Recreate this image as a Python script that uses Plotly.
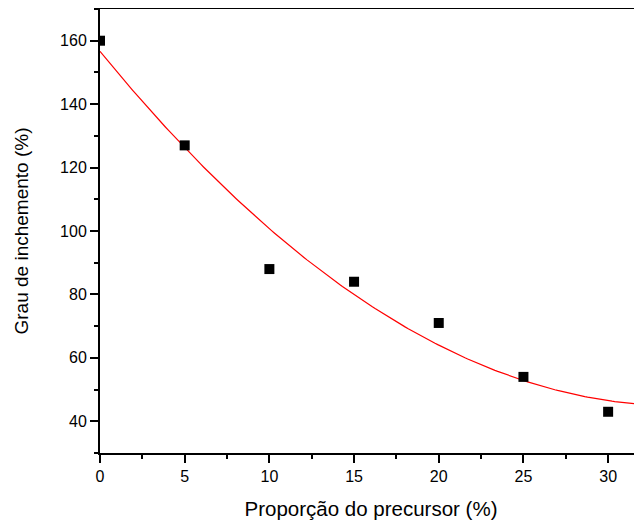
import numpy as np
import plotly.graph_objects as go

proporcao = [0, 5, 10, 15, 20, 25, 30]
grau = [160, 127, 88, 84, 71, 54, 43]

# quadratic fit to the data (red curve)
coef = np.polyfit(proporcao, grau, 2)
xfit = np.linspace(0, 32, 200)
yfit = np.polyval(coef, xfit)

fig = go.Figure()
fig.add_trace(go.Scatter(x=xfit, y=yfit, mode="lines",
                         line=dict(color="red", width=1.2), showlegend=False))
fig.add_trace(go.Scatter(x=proporcao, y=grau, mode="markers",
                         marker=dict(symbol="square", size=10, color="black"),
                         showlegend=False))

font = dict(family="Liberation Sans, Arial, sans-serif", color="black")
fig.update_layout(
    width=634, height=513,
    margin=dict(l=92, r=0, t=1, b=68),
    plot_bgcolor="white", paper_bgcolor="white",
    font=dict(size=16, **font),
)
fig.update_xaxes(
    range=[0, 32], dtick=5, tick0=0,
    showgrid=False, zeroline=False,
    showline=True, linecolor="black", linewidth=2, mirror=True,
    ticks="outside", ticklen=8, tickwidth=1.5, tickcolor="black",
    minor=dict(dtick=2.5, ticks="outside", ticklen=4, tickwidth=1.5, tickcolor="black"),
    tickfont=dict(size=16),
    title=dict(text="Proporção do precursor (%)", font=dict(size=20.5), standoff=17),
)
fig.update_yaxes(
    range=[30, 170], dtick=20, tick0=0,
    showgrid=False, zeroline=False,
    showline=True, linecolor="black", linewidth=2,
    ticks="outside", ticklen=8, tickwidth=1.5, tickcolor="black",
    minor=dict(dtick=10, ticks="outside", ticklen=4, tickwidth=1.5, tickcolor="black"),
    tickfont=dict(size=16),
    title=dict(text="Grau de inchemento (%)", font=dict(size=19), standoff=26),
)

fig.write_html("out.html")
